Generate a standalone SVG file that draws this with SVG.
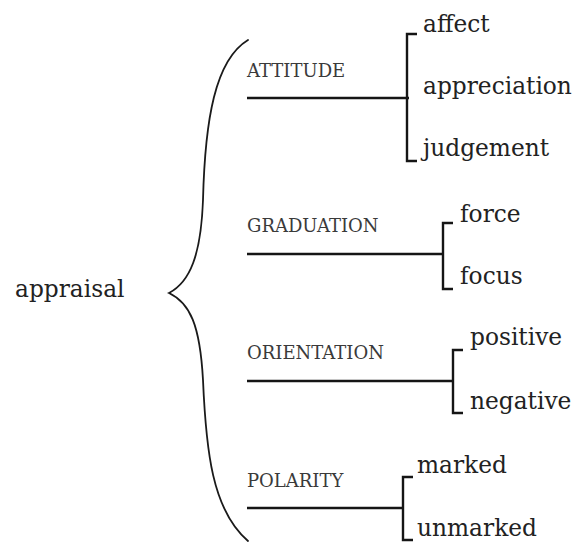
<svg xmlns="http://www.w3.org/2000/svg" width="575" height="542" viewBox="0 0 575 542">
<style>
.cat{font-family:"DejaVu Serif","Liberation Serif",serif;font-size:18px;fill:#3a3a3a}
.leaf{font-family:"DejaVu Serif","Liberation Serif",serif;font-size:23.3px;fill:#222}
.ln{stroke:#151515;stroke-width:2.3;fill:none}
.br{stroke:#151515;stroke-width:2.4;fill:none;stroke-linejoin:miter}
.brace{stroke:#1a1a1a;stroke-width:1.8;fill:none;stroke-linecap:round}
</style>
<rect width="575" height="542" fill="#fff"/>
<g id="appraisal">
<text class="leaf" x="15" y="297">appraisal</text>
</g>
<g id="attitude">
<text class="cat" x="247" y="77">ATTITUDE</text>
<text class="leaf" x="423" y="32">affect</text>
<text class="leaf" x="423" y="94">appreciation</text>
<text class="leaf" x="423" y="156">judgement</text>
</g>
<g id="graduation">
<text class="cat" x="247" y="232">GRADUATION</text>
<text class="leaf" x="460" y="222">force</text>
<text class="leaf" x="460" y="284">focus</text>
</g>
<g id="orientation">
<text class="cat" x="247" y="359">ORIENTATION</text>
<text class="leaf" x="470" y="345">positive</text>
<text class="leaf" x="470" y="409">negative</text>
</g>
<g id="polarity">
<text class="cat" x="247" y="487">POLARITY</text>
<text class="leaf" x="417" y="473">marked</text>
<text class="leaf" x="417" y="536">unmarked</text>
</g>
<g id="connectors">
<path class="brace" d="M248,40 C215,60 205,120 203,200 C201,255 190,282 169,293 C190,303 200,325 203,380 C206,450 212,510 248,541"/>
<line class="ln" x1="247" y1="98" x2="409" y2="98"/>
<path class="br" d="M417,34 H407 V161 H417"/>
<line class="ln" x1="247" y1="254" x2="444" y2="254"/>
<path class="br" d="M453,223 H443 V289 H453"/>
<line class="ln" x1="247" y1="381" x2="454" y2="381"/>
<path class="br" d="M463,350 H453 V413 H463"/>
<line class="ln" x1="247" y1="508" x2="404" y2="508"/>
<path class="br" d="M413,477 H403 V540 H413"/>
</g>
</svg>
